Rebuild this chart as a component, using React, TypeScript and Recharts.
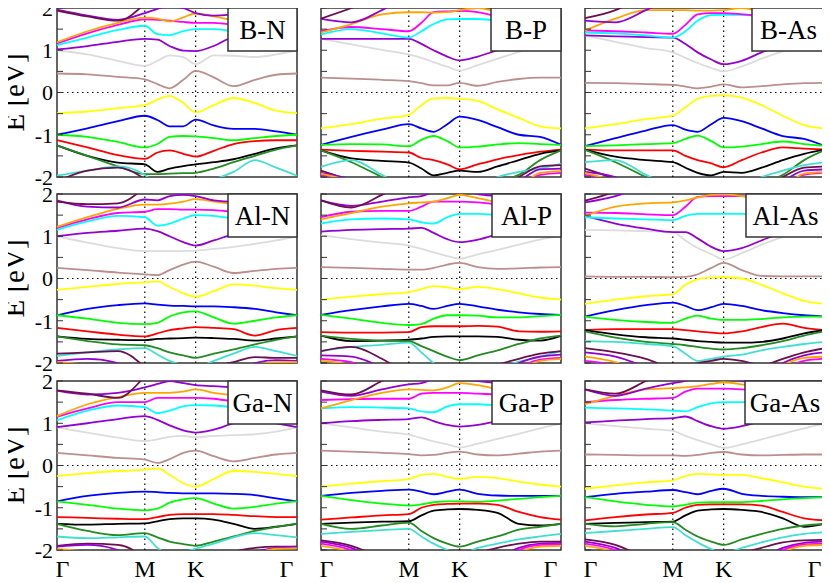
import React from "react";
import { LineChart, Line, XAxis, YAxis, ReferenceLine, ReferenceArea } from "recharts";

// k-path Γ - M - K - Γ (hexagonal BZ, units of 2π/a)
const K_PATH = [0, 0.2, 0.4, 0.577, 0.66, 0.74, 0.83, 0.911, 1.03, 1.16, 1.3, 1.44, 1.577];
const K_M = 0.577;
const K_K = 0.911;
const K_END = 1.577;
const K_TICKS = [0, K_M, K_K, K_END];
const K_LABELS = ["Γ", "M", "K", "Γ"];
const E_TICKS = [-2, -1.5, -1, -0.5, 0, 0.5, 1, 1.5, 2];

const PANEL_NAMES = ["B-N", "B-P", "B-As", "Al-N", "Al-P", "Al-As", "Ga-N", "Ga-P", "Ga-As"];

const BAND_KEYS = [
  "gray", "brown", "yellow", "blue", "green", "red", "black", "dgreen", "turq",
  "purple", "cyan", "magenta", "orange", "purple2", "dpurple",
  "lowDp", "lowP", "lowM", "lowO",
];

// bands, in BAND_KEYS order, energies in eV at K_PATH
const B_N = [
  [1.0, 0.9, 0.75, 0.63, 0.75, 0.88, 0.84, 0.67, 0.88, 0.87, 0.84, 0.9, 1.0],
  [0.45, 0.43, 0.37, 0.31, 0.2, 0.1, 0.3, 0.51, 0.36, 0.15, 0.3, 0.42, 0.45],
  [-0.49, -0.45, -0.37, -0.3, -0.17, -0.08, -0.25, -0.47, -0.3, -0.13, -0.25, -0.43, -0.49],
  [-1.0, -0.85, -0.68, -0.55, -0.65, -0.8, -0.8, -0.64, -0.78, -0.86, -0.86, -0.92, -1.0],
  [-1.0, -1.05, -1.17, -1.3, -1.22, -1.05, -1.03, -1.04, -1.08, -1.13, -1.08, -1.03, -1.0],
  [-1.13, -1.3, -1.48, -1.57, -1.42, -1.37, -1.45, -1.52, -1.38, -1.22, -1.15, -1.13, -1.13],
  [-1.25, -1.5, -1.66, -1.7, -1.88, -1.8, -1.74, -1.7, -1.65, -1.58, -1.45, -1.32, -1.25],
  [-1.25, -1.5, -1.75, -1.93, -1.93, -1.92, -1.91, -1.9, -1.8, -1.65, -1.5, -1.35, -1.25],
  [-1.97, -1.85, -1.75, -1.95, -2.2, -2.3, -2.2, -2.1, -2.05, -1.88, -1.6, -1.78, -1.97],
  [1.02, 1.1, 1.2, 1.27, 1.25, 1.1, 0.99, 0.98, 1.1, 1.3, 1.3, 1.2, 1.02],
  [1.12, 1.3, 1.48, 1.58, 1.38, 1.36, 1.45, 1.5, 1.5, 1.45, 1.4, 1.3, 1.12],
  [1.16, 1.4, 1.6, 1.73, 1.72, 1.7, 1.67, 1.65, 1.65, 1.6, 1.5, 1.35, 1.16],
  [1.19, 1.45, 1.65, 1.77, 1.75, 1.68, 1.78, 1.87, 1.8, 1.7, 1.55, 1.4, 1.19],
  [1.96, 1.82, 1.72, 1.88, 1.98, 2.05, 2.0, 1.88, 1.82, 1.85, 1.9, 1.94, 1.96],
  [1.94, 1.8, 1.7, 2.1, 2.4, 2.5, 2.5, 2.5, 2.4, 2.3, 2.2, 2.05, 1.94],
  [-2.1, -1.85, -1.78, -2.05, -2.3, -2.5, -2.5, -2.5, -2.4, -2.3, -2.2, -2.15, -2.1],
  null, null, null,
];

const B_P = [
  [1.27, 1.14, 1.01, 0.9, 0.82, 0.72, 0.61, 0.52, 0.65, 0.8, 0.96, 1.12, 1.27],
  [0.35, 0.33, 0.3, 0.27, 0.22, 0.17, 0.17, 0.23, 0.16, 0.25, 0.32, 0.35, 0.35],
  [-0.85, -0.75, -0.62, -0.53, -0.3, -0.14, -0.13, -0.15, -0.2, -0.4, -0.6, -0.8, -0.85],
  [-1.24, -1.05, -0.88, -0.75, -0.85, -0.93, -0.75, -0.57, -0.65, -0.82, -1.0, -1.05, -1.24],
  [-1.24, -1.22, -1.23, -1.27, -1.12, -1.03, -1.15, -1.3, -1.28, -1.23, -1.2, -1.22, -1.24],
  [-1.35, -1.38, -1.4, -1.42, -1.55, -1.6, -1.7, -1.82, -1.7, -1.58, -1.48, -1.4, -1.35],
  [-1.37, -1.56, -1.62, -1.66, -1.8, -1.96, -1.9, -1.85, -1.88, -1.75, -1.6, -1.45, -1.37],
  [-1.37, -1.65, -2.0, -2.3, -2.4, -2.4, -2.4, -2.4, -2.3, -2.1, -1.95, -1.6, -1.37],
  [-1.76, -1.6, -1.95, -2.3, -2.4, -2.4, -2.4, -2.4, -2.2, -2.0, -1.88, -1.8, -1.69],
  [1.27, 1.27, 1.27, 1.27, 1.15, 1.0, 0.85, 0.76, 0.85, 1.0, 1.12, 1.22, 1.27],
  [1.37, 1.5, 1.4, 1.3, 1.45, 1.62, 1.73, 1.74, 1.74, 1.7, 1.6, 1.5, 1.37],
  [1.45, 1.55, 1.5, 1.45, 1.65, 1.9, 1.92, 1.93, 1.9, 1.8, 1.7, 1.6, 1.45],
  [1.42, 1.62, 1.85, 1.9, 1.9, 1.89, 1.9, 1.95, 2.0, 1.9, 1.8, 1.65, 1.42],
  [1.74, 1.66, 1.95, 2.3, 2.4, 2.4, 2.4, 2.4, 2.3, 2.2, 2.05, 1.9, 1.74],
  [1.75, 2.0, 2.3, 2.5, 2.5, 2.5, 2.5, 2.5, 2.5, 2.4, 2.2, 1.95, 1.75],
  [-1.85, -2.1, -2.4, -2.5, -2.5, -2.5, -2.5, -2.5, -2.5, -2.3, -2.0, -1.75, -1.72],
  [-1.9, -2.05, -2.3, -2.5, -2.5, -2.5, -2.5, -2.5, -2.5, -2.35, -2.1, -1.82, -1.8],
  [-1.95, -2.1, -2.4, -2.5, -2.5, -2.5, -2.5, -2.5, -2.5, -2.4, -2.2, -1.95, -1.9],
  [-1.92, -2.1, -2.35, -2.5, -2.5, -2.5, -2.5, -2.5, -2.5, -2.4, -2.25, -1.9, -1.86],
];

const B_As = [
  [1.35, 1.2, 1.05, 0.95, 0.82, 0.7, 0.58, 0.5, 0.62, 0.8, 0.98, 1.15, 1.35],
  [0.23, 0.22, 0.2, 0.18, 0.14, 0.1, 0.14, 0.19, 0.12, 0.15, 0.19, 0.22, 0.23],
  [-0.85, -0.75, -0.63, -0.55, -0.35, -0.15, -0.08, -0.07, -0.12, -0.3, -0.55, -0.77, -0.85],
  [-1.27, -1.08, -0.9, -0.77, -0.88, -0.93, -0.75, -0.6, -0.68, -0.85, -1.03, -1.1, -1.27],
  [-1.27, -1.25, -1.22, -1.2, -1.1, -1.02, -1.15, -1.3, -1.28, -1.22, -1.16, -1.22, -1.26],
  [-1.35, -1.37, -1.37, -1.37, -1.5, -1.6, -1.68, -1.77, -1.6, -1.42, -1.3, -1.33, -1.35],
  [-1.35, -1.52, -1.6, -1.65, -1.78, -1.9, -1.96, -1.88, -1.9, -1.78, -1.6, -1.45, -1.35],
  [-1.36, -1.65, -2.0, -2.3, -2.4, -2.4, -2.4, -2.4, -2.35, -2.15, -1.95, -1.6, -1.36],
  [-1.65, -1.6, -1.95, -2.25, -2.4, -2.4, -2.4, -2.4, -2.2, -2.0, -1.85, -1.72, -1.65],
  [1.35, 1.33, 1.31, 1.3, 1.15, 0.95, 0.78, 0.67, 0.75, 0.95, 1.15, 1.3, 1.35],
  [1.42, 1.4, 1.35, 1.3, 1.45, 1.7, 1.83, 1.84, 1.84, 1.8, 1.7, 1.55, 1.42],
  [1.47, 1.45, 1.42, 1.39, 1.6, 1.85, 1.88, 1.88, 1.85, 1.8, 1.7, 1.58, 1.47],
  [1.47, 1.75, 1.95, 1.95, 1.95, 1.94, 1.94, 1.95, 2.0, 1.9, 1.8, 1.65, 1.47],
  [1.7, 1.66, 1.95, 2.25, 2.4, 2.4, 2.4, 2.4, 2.3, 2.2, 2.1, 1.9, 1.7],
  [1.76, 1.95, 2.3, 2.5, 2.5, 2.5, 2.5, 2.5, 2.5, 2.4, 2.2, 1.95, 1.76],
  [-1.8, -2.05, -2.4, -2.5, -2.5, -2.5, -2.5, -2.5, -2.5, -2.3, -2.0, -1.78, -1.75],
  [-1.88, -2.0, -2.3, -2.5, -2.5, -2.5, -2.5, -2.5, -2.5, -2.35, -2.1, -1.85, -1.82],
  [-1.95, -2.1, -2.4, -2.5, -2.5, -2.5, -2.5, -2.5, -2.5, -2.4, -2.2, -1.95, -1.9],
  [-1.9, -2.1, -2.35, -2.5, -2.5, -2.5, -2.5, -2.5, -2.5, -2.4, -2.25, -1.92, -1.88],
];

const Al_N = [
  [1.0, 0.85, 0.72, 0.65, 0.65, 0.65, 0.65, 0.66, 0.7, 0.75, 0.82, 0.9, 1.0],
  [0.25, 0.2, 0.14, 0.1, 0.08, 0.2, 0.33, 0.4, 0.28, 0.13, 0.18, 0.23, 0.25],
  [-0.27, -0.2, -0.13, -0.09, -0.07, -0.2, -0.35, -0.43, -0.3, -0.14, -0.17, -0.23, -0.27],
  [-0.87, -0.72, -0.63, -0.59, -0.62, -0.64, -0.65, -0.66, -0.66, -0.68, -0.72, -0.8, -0.87],
  [-0.87, -0.95, -1.05, -1.08, -1.05, -0.9, -0.8, -0.78, -0.92, -1.07, -1.0, -0.92, -0.87],
  [-1.17, -1.25, -1.33, -1.37, -1.3, -1.22, -1.18, -1.15, -1.17, -1.2, -1.35, -1.22, -1.17],
  [-1.37, -1.43, -1.45, -1.46, -1.43, -1.42, -1.41, -1.4, -1.41, -1.43, -1.47, -1.42, -1.37],
  [-1.37, -1.48, -1.56, -1.58, -1.65, -1.75, -1.82, -1.88, -1.78, -1.68, -1.56, -1.45, -1.37],
  [-1.83, -1.75, -1.68, -1.65, -1.8, -1.95, -2.05, -2.1, -1.95, -1.78, -1.62, -1.72, -1.83],
  [1.0, 1.08, 1.13, 1.18, 1.12, 1.0, 0.86, 0.78, 0.9, 1.05, 1.15, 1.1, 1.0],
  [1.15, 1.35, 1.48, 1.45, 1.25, 1.3, 1.42, 1.5, 1.48, 1.42, 1.35, 1.25, 1.15],
  [1.2, 1.4, 1.55, 1.58, 1.64, 1.64, 1.63, 1.63, 1.62, 1.58, 1.5, 1.35, 1.2],
  [1.22, 1.45, 1.65, 1.75, 1.75, 1.77, 1.82, 1.88, 1.82, 1.75, 1.6, 1.4, 1.22],
  [1.85, 1.7, 1.68, 1.87, 1.85, 1.95, 1.98, 1.95, 1.85, 1.82, 1.85, 1.87, 1.85],
  [1.82, 1.76, 1.78, 2.15, 2.4, 2.5, 2.5, 2.5, 2.4, 2.2, 2.0, 1.9, 1.82],
  [-1.78, -1.75, -1.72, -2.1, -2.4, -2.5, -2.5, -2.4, -2.1, -1.98, -1.86, -1.88, -1.88],
  [-1.95, -1.9, -2.0, -2.3, -2.5, -2.5, -2.5, -2.5, -2.4, -2.2, -2.0, -1.93, -1.95],
  null,
  [-1.98, -2.05, -2.3, -2.5, -2.5, -2.5, -2.5, -2.5, -2.5, -2.3, -2.05, -1.98, -1.98],
];

const Al_P = [
  [1.02, 0.93, 0.85, 0.78, 0.7, 0.62, 0.53, 0.47, 0.57, 0.68, 0.8, 0.92, 1.02],
  [0.27, 0.25, 0.23, 0.21, 0.21, 0.25, 0.33, 0.37, 0.27, 0.23, 0.24, 0.26, 0.27],
  [-0.5, -0.43, -0.37, -0.32, -0.25, -0.18, -0.21, -0.25, -0.2, -0.25, -0.35, -0.45, -0.5],
  [-0.86, -0.75, -0.66, -0.6, -0.65, -0.72, -0.65, -0.6, -0.66, -0.74, -0.8, -0.84, -0.86],
  [-0.86, -0.95, -1.05, -1.1, -1.08, -0.95, -0.87, -0.87, -0.88, -0.92, -0.92, -0.89, -0.86],
  [-1.27, -1.28, -1.28, -1.27, -1.15, -1.13, -1.13, -1.13, -1.12, -1.14, -1.25, -1.26, -1.25],
  [-1.35, -1.48, -1.47, -1.45, -1.42, -1.38, -1.37, -1.37, -1.37, -1.38, -1.45, -1.47, -1.36],
  [-1.35, -1.43, -1.47, -1.48, -1.6, -1.72, -1.85, -1.93, -1.82, -1.7, -1.55, -1.42, -1.35],
  [-1.72, -1.62, -1.57, -1.52, -1.75, -2.0, -2.2, -2.3, -2.2, -2.1, -1.97, -1.85, -1.72],
  [1.11, 1.15, 1.17, 1.18, 1.2, 1.08, 0.93, 0.86, 0.92, 1.05, 1.2, 1.25, 1.11],
  [1.3, 1.4, 1.42, 1.4, 1.33, 1.3, 1.45, 1.53, 1.53, 1.5, 1.45, 1.38, 1.3],
  [1.45, 1.58, 1.6, 1.6, 1.7, 1.82, 1.82, 1.82, 1.8, 1.75, 1.65, 1.55, 1.45],
  [1.4, 1.55, 1.7, 1.78, 1.8, 1.82, 1.9, 1.98, 1.9, 1.8, 1.68, 1.55, 1.4],
  [1.85, 1.72, 1.82, 1.92, 1.95, 2.05, 2.1, 2.1, 2.0, 1.95, 1.9, 1.88, 1.85],
  [1.85, 1.68, 1.98, 2.3, 2.5, 2.5, 2.5, 2.5, 2.5, 2.4, 2.2, 2.0, 1.85],
  [-1.72, -1.62, -1.9, -2.3, -2.5, -2.5, -2.5, -2.5, -2.3, -2.05, -1.9, -1.78, -1.72],
  [-1.82, -1.85, -2.1, -2.4, -2.5, -2.5, -2.5, -2.5, -2.5, -2.3, -2.0, -1.85, -1.8],
  [-1.9, -1.98, -2.3, -2.5, -2.5, -2.5, -2.5, -2.5, -2.5, -2.4, -2.1, -1.92, -1.88],
  [-1.95, -2.05, -2.35, -2.5, -2.5, -2.5, -2.5, -2.5, -2.5, -2.4, -2.15, -1.95, -1.9],
];

const Al_As = [
  [1.15, 1.14, 1.12, 1.1, 0.9, 0.72, 0.58, 0.45, 0.6, 0.8, 0.98, 1.1, 1.15],
  [0.05, 0.04, 0.04, 0.03, 0.04, 0.1, 0.25, 0.37, 0.2, 0.06, 0.05, 0.05, 0.05],
  [-0.6, -0.5, -0.42, -0.37, -0.15, -0.02, 0.02, 0.03, 0.0, -0.15, -0.35, -0.53, -0.6],
  [-0.9, -0.75, -0.63, -0.57, -0.65, -0.75, -0.68, -0.6, -0.65, -0.75, -0.82, -0.87, -0.9],
  [-0.9, -0.98, -1.03, -1.05, -0.95, -0.88, -0.95, -0.98, -0.98, -0.96, -0.92, -0.9, -0.9],
  [-1.22, -1.2, -1.2, -1.2, -1.22, -1.25, -1.28, -1.3, -1.25, -1.15, -1.07, -1.17, -1.22],
  [-1.22, -1.32, -1.39, -1.42, -1.45, -1.48, -1.5, -1.52, -1.52, -1.5, -1.42, -1.3, -1.22],
  [-1.25, -1.4, -1.5, -1.55, -1.58, -1.62, -1.66, -1.68, -1.65, -1.58, -1.48, -1.35, -1.25],
  [-1.48, -1.5, -1.55, -1.6, -1.78, -1.95, -1.9, -1.85, -1.8, -1.7, -1.62, -1.55, -1.5],
  [1.48, 1.3, 1.18, 1.1, 1.1, 0.95, 0.75, 0.65, 0.72, 0.9, 1.1, 1.25, 1.4],
  [1.45, 1.42, 1.4, 1.38, 1.48, 1.53, 1.53, 1.53, 1.53, 1.52, 1.5, 1.48, 1.45],
  [1.56, 1.55, 1.52, 1.5, 1.7, 1.93, 1.95, 1.95, 1.95, 1.9, 1.8, 1.68, 1.56],
  [1.48, 1.7, 1.78, 1.8, 1.85, 1.92, 1.98, 2.0, 1.95, 1.88, 1.78, 1.62, 1.48],
  [1.8, 1.95, 2.2, 2.4, 2.5, 2.5, 2.5, 2.5, 2.5, 2.4, 2.2, 1.95, 1.8],
  [1.84, 2.05, 2.3, 2.5, 2.5, 2.5, 2.5, 2.5, 2.5, 2.5, 2.3, 2.05, 1.84],
  [-1.65, -1.75, -1.9, -2.1, -2.1, -2.0, -1.95, -1.9, -1.95, -2.05, -1.9, -1.75, -1.65],
  [-1.75, -1.85, -2.1, -2.4, -2.5, -2.5, -2.5, -2.5, -2.5, -2.3, -2.0, -1.82, -1.75],
  [-1.95, -2.05, -2.3, -2.5, -2.5, -2.5, -2.5, -2.5, -2.5, -2.4, -2.15, -1.95, -1.9],
  [-1.85, -1.98, -2.25, -2.5, -2.5, -2.5, -2.5, -2.5, -2.5, -2.35, -2.05, -1.88, -1.85],
];

const Ga_N = [
  [0.9, 0.78, 0.66, 0.58, 0.62, 0.68, 0.7, 0.67, 0.7, 0.72, 0.74, 0.8, 0.9],
  [0.3, 0.24, 0.18, 0.14, 0.06, 0.15, 0.3, 0.35, 0.22, 0.1, 0.18, 0.26, 0.3],
  [-0.25, -0.18, -0.13, -0.1, -0.07, -0.22, -0.42, -0.5, -0.32, -0.13, -0.15, -0.2, -0.25],
  [-0.85, -0.72, -0.65, -0.62, -0.63, -0.65, -0.66, -0.66, -0.66, -0.67, -0.7, -0.78, -0.85],
  [-0.85, -0.93, -1.02, -1.06, -1.02, -0.88, -0.8, -0.77, -0.9, -1.02, -0.98, -0.9, -0.85],
  [-1.22, -1.24, -1.26, -1.27, -1.22, -1.17, -1.15, -1.15, -1.15, -1.17, -1.2, -1.22, -1.22],
  [-1.38, -1.4, -1.38, -1.37, -1.32, -1.27, -1.25, -1.25, -1.28, -1.38, -1.5, -1.45, -1.38],
  [-1.38, -1.55, -1.65, -1.6, -1.7, -1.8, -1.86, -1.9, -1.8, -1.68, -1.55, -1.45, -1.38],
  [-1.68, -1.72, -1.7, -1.68, -1.95, -2.1, -2.05, -1.97, -1.85, -1.7, -1.6, -1.65, -1.7],
  [0.91, 1.0, 1.1, 1.17, 1.08, 0.95, 0.83, 0.78, 0.85, 1.0, 1.1, 1.0, 0.91],
  [1.07, 1.3, 1.42, 1.38, 1.24, 1.3, 1.4, 1.43, 1.42, 1.38, 1.3, 1.2, 1.07],
  [1.15, 1.35, 1.5, 1.5, 1.6, 1.6, 1.6, 1.6, 1.58, 1.52, 1.45, 1.3, 1.15],
  [1.17, 1.45, 1.62, 1.72, 1.72, 1.72, 1.75, 1.8, 1.72, 1.65, 1.5, 1.35, 1.17],
  [1.77, 1.68, 1.72, 1.85, 1.93, 2.0, 1.95, 1.9, 1.88, 1.85, 1.82, 1.8, 1.77],
  [1.78, 1.7, 1.6, 2.1, 2.4, 2.5, 2.5, 2.5, 2.4, 2.2, 2.0, 1.85, 1.78],
  [-1.9, -1.85, -1.88, -2.2, -2.5, -2.5, -2.5, -2.5, -2.3, -2.05, -1.95, -1.92, -1.92],
  [-1.92, -1.88, -2.0, -2.3, -2.5, -2.5, -2.5, -2.5, -2.5, -2.3, -2.05, -1.95, -1.92],
  null,
  [-1.98, -2.05, -2.3, -2.5, -2.5, -2.5, -2.5, -2.5, -2.5, -2.35, -2.1, -1.97, -1.96],
];

const Ga_P = [
  [1.0, 0.9, 0.8, 0.73, 0.65, 0.57, 0.5, 0.43, 0.52, 0.63, 0.75, 0.88, 1.0],
  [0.35, 0.33, 0.3, 0.27, 0.24, 0.25, 0.3, 0.33, 0.26, 0.24, 0.28, 0.33, 0.35],
  [-0.5, -0.43, -0.37, -0.32, -0.22, -0.2, -0.27, -0.32, -0.27, -0.3, -0.38, -0.45, -0.5],
  [-0.72, -0.65, -0.6, -0.57, -0.62, -0.68, -0.62, -0.57, -0.67, -0.71, -0.72, -0.72, -0.72],
  [-0.72, -0.82, -0.9, -0.95, -0.92, -0.87, -0.85, -0.85, -0.86, -0.83, -0.79, -0.75, -0.72],
  [-1.28, -1.23, -1.18, -1.15, -1.0, -0.93, -0.91, -0.9, -0.9, -0.93, -1.1, -1.22, -1.28],
  [-1.38, -1.35, -1.33, -1.32, -1.18, -1.07, -1.04, -1.03, -1.05, -1.12, -1.38, -1.42, -1.38],
  [-1.38, -1.5, -1.42, -1.35, -1.55, -1.72, -1.85, -1.92, -1.8, -1.68, -1.52, -1.45, -1.38],
  [-1.62, -1.57, -1.53, -1.5, -1.68, -1.85, -2.0, -2.1, -1.95, -1.85, -1.75, -1.68, -1.62],
  [1.0, 1.05, 1.08, 1.1, 1.14, 1.05, 0.96, 0.92, 0.96, 1.05, 1.12, 1.08, 1.0],
  [1.35, 1.38, 1.37, 1.35, 1.28, 1.26, 1.4, 1.45, 1.45, 1.42, 1.4, 1.38, 1.35],
  [1.55, 1.57, 1.58, 1.58, 1.7, 1.72, 1.72, 1.72, 1.7, 1.68, 1.65, 1.6, 1.55],
  [1.35, 1.55, 1.72, 1.8, 1.79, 1.78, 1.85, 1.95, 1.9, 1.8, 1.68, 1.52, 1.35],
  [1.75, 1.65, 1.8, 1.92, 1.95, 2.05, 2.1, 2.05, 2.0, 1.95, 1.9, 1.82, 1.75],
  [1.78, 1.68, 2.0, 2.3, 2.5, 2.5, 2.5, 2.5, 2.5, 2.4, 2.2, 1.95, 1.78],
  [-1.77, -1.9, -2.2, -2.5, -2.5, -2.5, -2.5, -2.5, -2.1, -1.95, -1.85, -1.8, -1.8],
  [-1.8, -1.95, -2.3, -2.5, -2.5, -2.5, -2.5, -2.5, -2.5, -2.2, -1.95, -1.85, -1.83],
  [-1.85, -2.0, -2.35, -2.5, -2.5, -2.5, -2.5, -2.5, -2.5, -2.3, -2.0, -1.88, -1.87],
  [-1.9, -2.05, -2.4, -2.5, -2.5, -2.5, -2.5, -2.5, -2.5, -2.35, -2.05, -1.92, -1.9],
];

const Ga_As = [
  [1.0, 0.93, 0.87, 0.82, 0.7, 0.6, 0.5, 0.42, 0.5, 0.62, 0.75, 0.88, 1.0],
  [0.26, 0.25, 0.24, 0.24, 0.23, 0.25, 0.3, 0.32, 0.26, 0.24, 0.25, 0.26, 0.26],
  [-0.55, -0.47, -0.4, -0.35, -0.25, -0.2, -0.21, -0.22, -0.22, -0.3, -0.4, -0.5, -0.55],
  [-0.75, -0.67, -0.62, -0.58, -0.63, -0.68, -0.6, -0.55, -0.67, -0.72, -0.74, -0.75, -0.75],
  [-0.75, -0.85, -0.93, -0.97, -0.93, -0.88, -0.87, -0.87, -0.87, -0.84, -0.8, -0.77, -0.75],
  [-1.3, -1.22, -1.16, -1.12, -1.0, -0.93, -0.92, -0.92, -0.92, -0.95, -1.1, -1.25, -1.3],
  [-1.38, -1.36, -1.34, -1.33, -1.18, -1.07, -1.04, -1.03, -1.05, -1.1, -1.25, -1.45, -1.38],
  [-1.38, -1.44, -1.38, -1.34, -1.52, -1.68, -1.8, -1.88, -1.75, -1.62, -1.5, -1.42, -1.38],
  [-1.6, -1.55, -1.5, -1.46, -1.65, -1.82, -1.98, -2.08, -1.95, -1.82, -1.7, -1.62, -1.58],
  [1.02, 1.06, 1.1, 1.12, 1.16, 1.05, 0.93, 0.87, 0.93, 1.05, 1.15, 1.1, 1.02],
  [1.37, 1.35, 1.33, 1.3, 1.28, 1.38, 1.47, 1.5, 1.5, 1.47, 1.43, 1.4, 1.37],
  [1.5, 1.55, 1.58, 1.6, 1.75, 1.82, 1.82, 1.82, 1.8, 1.75, 1.68, 1.6, 1.5],
  [1.45, 1.65, 1.8, 1.83, 1.85, 1.88, 1.93, 1.97, 1.92, 1.82, 1.7, 1.57, 1.45],
  [1.8, 1.65, 1.82, 1.95, 2.0, 2.1, 2.1, 2.05, 2.0, 1.95, 1.9, 1.85, 1.8],
  [1.8, 1.7, 2.0, 2.3, 2.5, 2.5, 2.5, 2.5, 2.5, 2.4, 2.2, 1.95, 1.8],
  [-1.75, -1.88, -2.2, -2.5, -2.5, -2.5, -2.5, -2.5, -2.1, -1.95, -1.82, -1.77, -1.76],
  [-1.8, -1.95, -2.3, -2.5, -2.5, -2.5, -2.5, -2.5, -2.5, -2.2, -1.95, -1.83, -1.8],
  [-1.85, -2.0, -2.35, -2.5, -2.5, -2.5, -2.5, -2.5, -2.5, -2.3, -2.0, -1.87, -1.85],
  [-1.9, -2.05, -2.4, -2.5, -2.5, -2.5, -2.5, -2.5, -2.5, -2.35, -2.05, -1.9, -1.88],
];

const PANELS = [B_N, B_P, B_As, Al_N, Al_P, Al_As, Ga_N, Ga_P, Ga_As];

// styles
const BAND_COLORS: Record<string, string> = {
  gray: "#dcdcdc", brown: "#bc8f8f", yellow: "#ffff00", blue: "#0000ff", green: "#00ff00",
  red: "#ff0000", black: "#000000", dgreen: "#228b22", turq: "#40e0d0", purple: "#9400d3",
  cyan: "#00ffff", magenta: "#ff00ff", orange: "#ffa500", purple2: "#9400d3", dpurple: "#6b0f4e",
  lowDp: "#6b0f4e", lowP: "#9400d3", lowM: "#ff00ff", lowO: "#ffa500",
};
const FONT = '"Liberation Serif", "Times New Roman", serif';
const COL_X = [57, 321, 585];
const ROW_Y = [8, 194, 381];
const PLOT_W = 240;
const PLOT_H = 169;
const AXIS_W = 55;
const RIGHT_W = 6;
const TOP_PAD = 15;
const BOTTOM_H = 40;
const BOX_W = [69, 70, 73, 69, 69, 79, 69, 69, 80];
const BOX_H = 43;
const GAMMA_DX = [5.5, 0, 0, -10.5];
const YLABEL_X = 24;

const fmtE = (v: number) => (Number.isInteger(v) ? String(v) : "");

function KTick(props: any) {
  const { x, y, payload } = props;
  const i = K_TICKS.indexOf(payload.value);
  return (
    <text x={x + GAMMA_DX[i]} y={y + 27} textAnchor="middle" fontFamily={FONT} fontSize={24} fill="#000">
      {K_LABELS[i]}
    </text>
  );
}

function Panel({ idx }: { idx: number }) {
  const row = Math.floor(idx / 3);
  const col = idx % 3;
  const bands = PANELS[idx];
  const data = K_PATH.map((k, i) => {
    const d: Record<string, number> = { k };
    bands.forEach((b, j) => {
      if (b) d[BAND_KEYS[j]] = b[i];
    });
    return d;
  });

  return (
    <div style={{ position: "absolute", left: COL_X[col] - AXIS_W, top: ROW_Y[row] - TOP_PAD }}>
      <LineChart
        width={AXIS_W + PLOT_W + RIGHT_W}
        height={TOP_PAD + PLOT_H + BOTTOM_H}
        data={data}
        margin={{ top: TOP_PAD, right: 0, bottom: 0, left: 0 }}
      >
        <XAxis
          dataKey="k"
          type="number"
          domain={[0, K_END]}
          ticks={K_TICKS}
          interval={0}
          height={BOTTOM_H}
          axisLine={false}
          tickLine={false}
          tickSize={0}
          tickMargin={0}
          tick={row === 2 ? <KTick /> : false}
        />
        <YAxis
          type="number"
          domain={[-2, 2]}
          allowDataOverflow
          ticks={E_TICKS}
          interval={0}
          width={AXIS_W}
          axisLine={false}
          tickSize={-6}
          tickMargin={10}
          tickLine={{ stroke: "#333", strokeWidth: 1 }}
          tick={{ fill: "#000", fontSize: 22, fontFamily: FONT }}
          tickFormatter={col === 0 ? fmtE : () => ""}
        />
        <YAxis
          yAxisId="r"
          orientation="right"
          type="number"
          domain={[-2, 2]}
          ticks={E_TICKS}
          interval={0}
          width={RIGHT_W}
          axisLine={false}
          tickSize={-6}
          tickLine={{ stroke: "#333", strokeWidth: 1 }}
          tickFormatter={() => ""}
        />
        <ReferenceLine x={K_M} stroke="#000" strokeWidth={1.2} strokeDasharray="1.5 3.5" />
        <ReferenceLine x={K_K} stroke="#000" strokeWidth={1.2} strokeDasharray="1.5 3.5" />
        <ReferenceLine y={0} stroke="#000" strokeWidth={1.2} strokeDasharray="1.5 3.5" />
        {BAND_KEYS.map((key, j) =>
          bands[j] ? (
            <Line
              key={key}
              dataKey={key}
              type="monotone"
              stroke={BAND_COLORS[key]}
              strokeWidth={1.8}
              dot={false}
              activeDot={false}
              isAnimationActive={false}
            />
          ) : null
        )}
        <ReferenceArea
          x1={0}
          x2={K_END}
          y1={-2}
          y2={2}
          fill="none"
          stroke="#333"
          strokeWidth={1.5}
          ifOverflow="visible"
        />
      </LineChart>
    </div>
  );
}

export default function App() {
  return (
    <div style={{ position: "relative", width: 830, height: 583, marginTop: -8, marginLeft: -8, background: "#fff" }}>
      {PANEL_NAMES.map((_, i) => (
        <Panel key={i} idx={i} />
      ))}
      <svg width={830} height={583} style={{ position: "absolute", left: 0, top: 0, pointerEvents: "none", overflow: "visible" }}>
        {ROW_Y.map((y0) => {
          const cy = y0 + PLOT_H / 2;
          return (
            <text
              key={y0}
              x={YLABEL_X}
              y={cy}
              transform={`rotate(-90 ${YLABEL_X} ${cy})`}
              textAnchor="middle"
              fontFamily={FONT}
              fontSize={29}
              fill="#000"
            >
              E [eV]
            </text>
          );
        })}
        {PANEL_NAMES.map((name, i) => {
          const right = COL_X[i % 3] + PLOT_W;
          const top = ROW_Y[Math.floor(i / 3)];
          return (
            <g key={name}>
              <rect x={right - BOX_W[i]} y={top} width={BOX_W[i]} height={BOX_H} fill="#fff" stroke="#333" strokeWidth={1.5} />
              <text x={right - BOX_W[i] / 2} y={top + 31} textAnchor="middle" fontFamily={FONT} fontSize={27} fill="#000">
                {name}
              </text>
            </g>
          );
        })}
      </svg>
    </div>
  );
}
